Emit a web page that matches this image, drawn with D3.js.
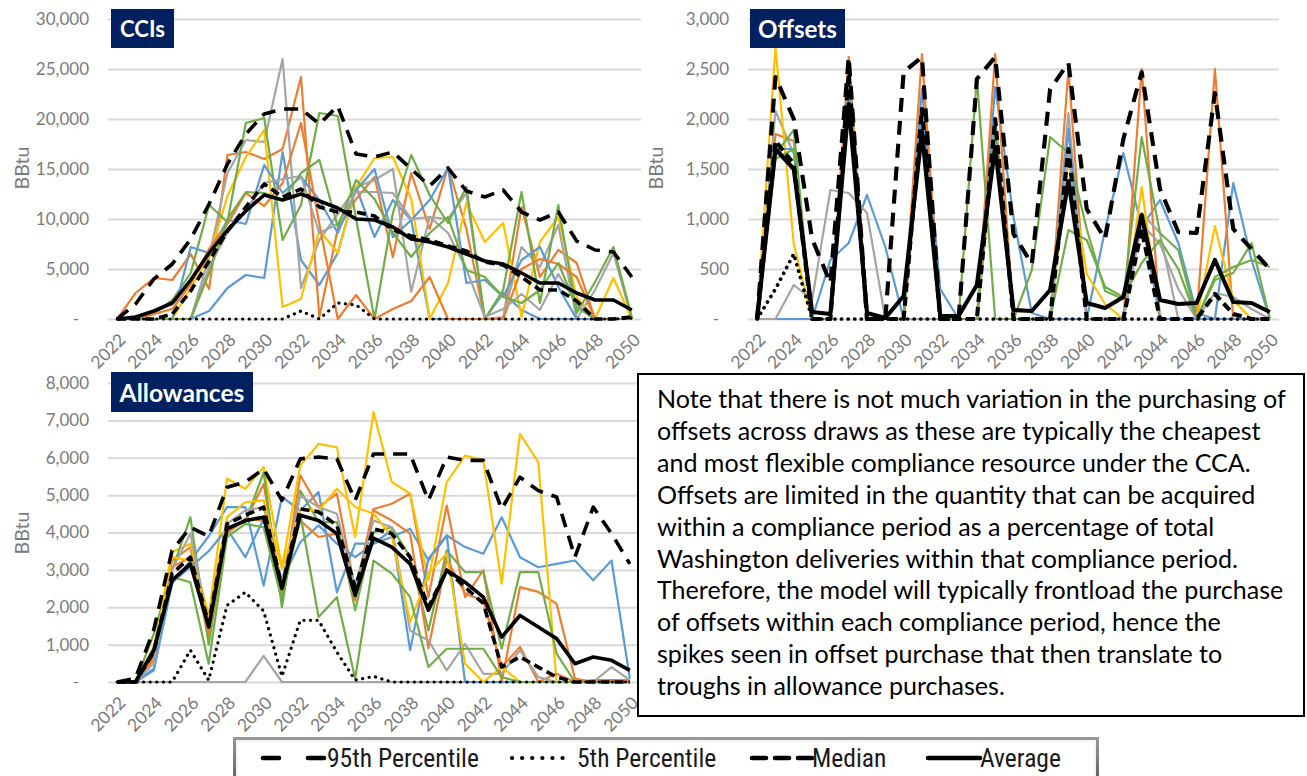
<!DOCTYPE html>
<html><head><meta charset="utf-8">
<script src="https://cdn.jsdelivr.net/npm/d3@7/dist/d3.min.js"></script>
<style>
body{margin:0;background:#fff;}
svg{display:block;font-family:Lato,"Open Sans",sans-serif;}
</style></head><body>
<svg id="c" width="1307" height="776"></svg>
<script>
// ---------- DATA ----------
const years = [2022,2023,2024,2025,2026,2027,2028,2029,2030,2031,2032,2033,2034,2035,2036,2037,2038,2039,2040,2041,2042,2043,2044,2045,2046,2047,2048,2049,2050];
const yearLabels = ["2022","2024","2026","2028","2030","2032","2034","2036","2038","2040","2042","2044","2046","2048","2050"];
const panelTitles = ["CCIs","Offsets","Allowances"];
const yAxisTitle = "BBtu";

// CCIs
const cciAvg = [0,200,800,1600,3900,6600,8900,10800,12400,11900,12500,11800,11100,10000,9900,9200,8000,7700,7200,6500,5800,5500,4600,3600,3600,2600,1900,1900,900];
const cciMedian = [0,0,0,500,2800,5800,8800,11200,13500,12200,13000,11200,10700,10700,10300,8900,8300,7900,7300,6800,5700,5400,4200,2900,2900,1800,0,0,200];
const cci95 = [0,1500,4000,5500,8000,11500,15500,18500,20500,21000,21000,19500,21300,16500,16200,16700,15000,13300,15100,12800,12200,12900,10700,9900,10700,7800,6900,6700,4200];
const cci5 = [0,0,0,0,0,0,0,0,0,0,800,0,1600,1400,0,0,0,0,0,0,0,0,0,0,0,0,0,0,100];
const cciBlueA = [0,0,0,0,0,800,3100,4400,4100,16700,5900,3400,6600,13200,8200,11900,9900,0,0,0,0,2600,900,0,0,0,0,0,0];
const cciBlueB = [0,0,0,0,7200,6600,9900,9500,15400,12600,14200,11900,8600,12900,15000,8200,9900,11900,15100,3600,3900,2200,5900,7200,3200,0,0,0,0];
const cciOrangeA = [0,2600,4100,3900,6500,3000,16400,16700,16000,17000,24200,200,9000,12000,14200,6200,14600,9000,15200,9000,0,0,11200,4200,6900,5600,0,0,0];
const cciOrangeB = [0,0,500,1000,3500,7000,9500,12600,11300,13600,19600,9500,0,2400,0,1000,1800,4200,0,0,0,0,5000,6000,5500,4200,0,0,0];
const cciGrayA = [0,0,0,0,0,6200,14600,17900,17700,26000,3100,7900,10500,13200,13900,15000,2700,10200,10000,12600,0,200,7200,5200,9400,0,2900,6600,0];
const cciGrayB = [0,0,0,0,0,5200,8600,10900,13600,14000,14300,8600,9500,12700,12700,12600,10000,10200,8600,5000,200,1000,2500,900,4500,1500,0,0,0];
const cciYellow = [0,0,0,0,3100,6200,12300,16200,18900,1200,2000,8900,6600,13200,16100,16200,12000,0,3600,11600,7700,9600,200,7700,10200,2200,0,4100,0];
const cciGreenA = [0,0,500,1900,4600,11400,9700,19600,20100,7900,11400,20600,20300,10000,0,10600,16400,12400,9600,13200,0,2900,12700,1600,11400,600,3700,7200,200];
const cciGreenB = [0,0,0,0,0,4600,10000,12700,12600,11900,14600,15900,9200,13900,12000,8600,6200,8600,10200,4900,4200,2200,1600,2900,5600,1200,0,0,0];

// Offsets
const offAvg = [0,1700,1500,70,50,2150,60,10,230,1870,30,30,340,1720,90,80,290,1380,160,110,220,1040,190,150,160,590,170,160,70];
const offMedian = [0,1780,1550,0,0,2450,0,0,0,2100,0,0,0,2000,0,0,0,1700,0,0,0,900,0,0,0,250,50,0,0];
const off95 = [0,2420,2000,800,360,2620,0,0,2470,2620,0,0,2400,2620,850,550,2300,2560,1100,800,1800,2470,1300,870,860,2260,900,700,500];
const off5 = [0,300,650,0,0,0,0,0,0,0,0,0,0,0,0,0,0,0,0,0,0,0,0,0,0,0,0,0,0];
const offBlueA = [0,0,0,0,590,760,1240,720,0,2300,300,0,0,2320,1020,60,0,0,0,890,1660,920,1190,760,60,0,1360,590,0];
const offBlueB = [0,1700,1700,0,0,2300,0,0,0,2100,0,0,0,2000,0,0,0,1900,0,0,0,1000,0,0,0,0,0,0,0];
const offOrange = [0,1850,1780,0,0,2620,0,0,0,2650,0,0,0,2650,0,0,0,2500,0,0,0,2500,0,0,0,2500,0,0,0];
const offGrayA = [0,2080,1650,0,0,2300,0,0,0,2000,0,0,0,2000,0,0,0,2060,0,0,0,1060,860,0,0,0,0,0,0];
const offGrayB = [0,0,340,190,1290,1260,1060,0,0,0,0,0,0,1800,0,0,0,1700,0,0,0,950,750,300,0,260,220,100,0];
const offYellow = [0,2720,750,0,0,2100,0,0,0,2000,0,0,0,1800,0,0,0,1600,450,150,0,1320,0,0,0,930,190,0,0];
const offGreenA = [0,1650,1890,0,0,2200,0,0,0,2000,0,0,2410,0,0,490,1820,1660,900,280,200,1820,860,690,0,390,460,760,0];
const offGreenB = [0,1600,1700,0,0,2100,0,0,0,1900,0,0,0,1900,0,0,0,890,790,320,220,560,790,500,0,420,520,590,520];

// Allowances
const alwAvg = [0,0,850,2720,3160,1470,4100,4320,4410,2500,4460,4320,3970,2320,3850,3610,3160,1920,2990,2670,2270,1200,1780,1470,1160,490,670,580,310];
const alwMedian = [0,0,800,2900,3340,1560,4230,4460,4680,2540,4630,4550,4190,2540,4100,3970,3340,2010,2990,2540,2100,400,670,400,130,0,0,0,0];
const alw95 = [0,100,1400,3520,4140,3900,5210,5350,5700,4860,5970,6020,5970,4860,6100,6100,6100,4860,6020,5930,5930,4630,5480,5120,4950,3340,4680,3970,3160];
const alw5 = [0,0,0,0,850,50,2050,2400,1900,150,1650,1650,800,50,150,0,0,0,0,0,0,0,0,0,0,0,0,0,0];
const alwBlueA = [0,0,360,2630,3250,3900,4680,4680,2580,4950,4590,5080,2400,3700,3700,3880,4100,3250,3920,3610,3430,4410,3340,3070,3160,3250,2720,3250,90];
const alwBlueB = [0,0,310,2670,3070,3500,4100,3340,4370,2720,3740,4190,3700,3340,3700,4060,850,3300,3920,0,0,0,0,0,0,0,0,0,0];
const alwOrangeA = [0,0,700,3250,3610,1110,4010,4320,5300,2360,5530,4680,5040,2450,4630,4770,5040,2270,4720,2270,2990,0,2540,2410,2090,90,0,0,0];
const alwOrangeB = [0,0,600,3070,3340,1290,3970,4370,4320,2450,4320,3880,3970,2180,4590,4320,3970,900,3300,2360,2180,400,940,0,220,0,50,50,50];
const alwGrayA = [0,0,0,0,0,0,0,0,700,0,0,0,0,0,0,0,0,0,0,0,0,0,0,0,0,0,0,0,0];
const alwGrayB = [0,0,500,3000,3970,1500,4230,4590,4680,2670,4990,4680,4500,2540,4320,4140,1380,1110,310,1020,220,220,850,130,0,0,0,400,50];
const alwYellowA = [0,0,940,3480,3700,1750,5440,5170,5750,3070,5790,6370,6280,3880,7220,5350,5040,2720,5350,6060,5930,2630,6640,5880,0,0,0,0,0];
const alwYellowB = [0,0,850,3340,3250,1800,4410,4810,4860,3030,4630,4590,5170,4680,4500,3900,1600,2900,3440,490,0,400,0,0,0,0,0,0,0];
const alwGreenA = [0,0,1290,2990,4410,1000,4140,4280,5610,2000,5120,4280,4280,1920,4010,4140,3340,1380,3520,2940,2940,890,2940,2940,760,0,0,0,0];
const alwGreenB = [0,0,900,2810,2670,490,3880,4230,4140,2180,4500,1740,2270,90,3250,2900,2270,400,890,890,890,130,0,0,0,0,0,0,0];

const legendLabels = ["95th Percentile","5th Percentile","Median","Average"];
const noteLines = [
 "Note that there is not much variation in the purchasing of",
 "offsets across draws as these are typically the cheapest",
 "and most flexible compliance resource under the CCA.",
 "Offsets are limited in the quantity that can be acquired",
 "within a compliance period as a percentage of total",
 "Washington deliveries within that compliance period.",
 "Therefore, the model will typically frontload the purchase",
 "of offsets within each compliance period, hence the",
 "spikes seen in offset purchase that then translate to",
 "troughs in allowance purchases."
];

// ---------- STYLE ----------
const C = {blue:"#5B9BD5", orange:"#ED7D31", gray:"#A5A5A5", yellow:"#FFC000", green:"#70AD47"};
const STY = {
  p95: {dash:"14,9", w:3.6, cap:"butt"},
  p5: {dash:"0.1,6.5", w:3.2, cap:"round"},
  med: {dash:"9,5", w:3.6, cap:"butt"},
  avg: {dash:null, w:3.6, cap:"butt"}
};
const FONT = "Lato, 'Open Sans', sans-serif";
const svg = d3.select("#c");

function fit(sel, w){
  const len = sel.node().getComputedTextLength();
  const fs = parseFloat(sel.attr("font-size"));
  sel.attr("font-size", fs * w / len);
}

function panel(cfg){
  const g = svg.append("g");
  const x = d3.scalePoint().domain(years).range([cfg.left, cfg.right]).padding(0.5);
  const y = d3.scaleLinear().domain([0, cfg.max]).range([cfg.bottom, cfg.top]);
  const ticks = d3.range(0, cfg.max + cfg.step/2, cfg.step);

  const ya = g.append("g").attr("transform", `translate(${cfg.left},0)`)
    .call(d3.axisLeft(y).tickValues(ticks).tickSize(-(cfg.right-cfg.left)).tickPadding(19)
      .tickFormat(d => d === 0 ? "-" : d3.format(",")(d)));
  ya.select(".domain").remove();
  ya.selectAll(".tick line").attr("stroke","#d9d9d9").attr("stroke-width",2);
  ya.selectAll(".tick text").attr("fill","#7b7b7b").attr("font-family",FONT).attr("font-size",17);
  ya.selectAll(".tick text").filter(d => d === 0).attr("dx", -10);

  const xa = g.append("g").attr("transform", `translate(0,${cfg.bottom})`)
    .call(d3.axisBottom(x).tickValues(yearLabels.map(Number)).tickSize(0).tickFormat(d => String(d)));
  xa.select(".domain").remove();
  xa.selectAll(".tick text").attr("fill","#7b7b7b").attr("font-family",FONT).attr("font-size",17.5)
    .attr("text-anchor","end").attr("y",0).attr("dy",0)
    .attr("transform","translate(9,22) rotate(-45)");

  const line = d3.line().x((d,i) => x(years[i])).y(d => y(d));
  cfg.draws.forEach(s => {
    g.append("path").datum(s.v).attr("d", line).attr("fill","none")
      .attr("stroke", s.c).attr("stroke-width", 2.2).attr("stroke-linejoin","round");
  });
  [["p5",cfg.p5],["med",cfg.med],["p95",cfg.p95],["avg",cfg.avg]].forEach(([k,v]) => {
    const st = STY[k];
    g.append("path").datum(v).attr("d", line).attr("fill","none")
      .attr("stroke","#000").attr("stroke-width", st.w * cfg.wk).attr("stroke-linecap", st.cap)
      .attr("stroke-linejoin","round").attr("stroke-dasharray", st.dash);
  });

  const yt = g.append("text").attr("transform", `translate(${cfg.ytx},${cfg.yty}) rotate(-90)`)
    .attr("text-anchor","middle").attr("dominant-baseline","middle")
    .attr("fill","#7b7b7b").attr("font-family",FONT).attr("font-size",20).text(yAxisTitle);
  fit(yt, 43);

  g.append("rect").attr("x",cfg.bx).attr("y",cfg.by).attr("width",cfg.bw).attr("height",cfg.bh).attr("fill","#002060");
  const tt = g.append("text").attr("x", cfg.bx + cfg.bw/2).attr("y", cfg.by + cfg.bh/2)
    .attr("text-anchor","middle").attr("dominant-baseline","central")
    .attr("fill","#fff").attr("font-weight","bold").attr("font-family",FONT).attr("font-size",20).text(cfg.title);
  fit(tt, cfg.tw);
}

panel({title:panelTitles[0], left:108, right:641, top:19, bottom:319, max:30000, step:5000, wk:1,
  ytx:24, yty:168, bx:111, by:9, bw:63, bh:39, tw:45,
  p95:cci95, p5:cci5, med:cciMedian, avg:cciAvg,
  draws:[{v:cciBlueA,c:C.blue},{v:cciOrangeA,c:C.orange},{v:cciGrayA,c:C.gray},{v:cciYellow,c:C.yellow},{v:cciGreenA,c:C.green},
         {v:cciBlueB,c:C.blue},{v:cciOrangeB,c:C.orange},{v:cciGrayB,c:C.gray},{v:cciGreenB,c:C.green}]});

panel({title:panelTitles[1], left:748, right:1279, top:19, bottom:319, max:3000, step:500, wk:1.15,
  ytx:658, yty:168, bx:750, by:9, bw:95, bh:39, tw:79,
  p95:off95, p5:off5, med:offMedian, avg:offAvg,
  draws:[{v:offBlueA,c:C.blue},{v:offOrange,c:C.orange},{v:offGrayA,c:C.gray},{v:offYellow,c:C.yellow},{v:offGreenA,c:C.green},
         {v:offBlueB,c:C.blue},{v:offGrayB,c:C.gray},{v:offGreenB,c:C.green}]});

panel({title:panelTitles[2], left:108, right:639, top:383, bottom:682, max:8000, step:1000, wk:1,
  ytx:24, yty:533, bx:111, by:372, bw:142, bh:40, tw:125,
  p95:alw95, p5:alw5, med:alwMedian, avg:alwAvg,
  draws:[{v:alwBlueA,c:C.blue},{v:alwOrangeA,c:C.orange},{v:alwGrayA,c:C.gray},{v:alwYellowA,c:C.yellow},{v:alwGreenA,c:C.green},
         {v:alwBlueB,c:C.blue},{v:alwOrangeB,c:C.orange},{v:alwGrayB,c:C.gray},{v:alwYellowB,c:C.yellow},{v:alwGreenB,c:C.green}]});

// ---------- NOTE BOX ----------
svg.append("rect").attr("x",638).attr("y",374).attr("width",666).attr("height",342)
  .attr("fill","#fff").attr("stroke","#000").attr("stroke-width",2);
const nt = svg.append("g");
const noteTexts = nt.selectAll("text").data(noteLines).join("text")
  .attr("x",657).attr("y",(d,i) => 398 + i*31.9).attr("dominant-baseline","central")
  .attr("fill","#000").attr("font-family",FONT).attr("font-size",20).text(d => d);
{
  const len = noteTexts.nodes()[0].getComputedTextLength();
  noteTexts.attr("font-size", 20 * 629 / len);
}

// ---------- LEGEND ----------
const defs = svg.append("defs");
const lg = defs.append("linearGradient").attr("id","lgb").attr("x1",0).attr("y1",0).attr("x2",0).attr("y2",1);
lg.append("stop").attr("offset","0%").attr("stop-color","#9a9a9a");
lg.append("stop").attr("offset","100%").attr("stop-color","#5e5e5e");
svg.append("rect").attr("x",233).attr("y",737).attr("width",866).attr("height",46).attr("fill","url(#lgb)");
svg.append("rect").attr("x",236).attr("y",740).attr("width",860).attr("height",46).attr("fill","#f4f4f4");
svg.append("rect").attr("x",238).attr("y",742).attr("width",856).attr("height",46).attr("fill","#fff");

const legendItems = [
  {k:"p95", x1:263, x2:327, tx:327},
  {k:"p5", x1:512, x2:570, tx:577},
  {k:"med", x1:752, x2:812, tx:812},
  {k:"avg", x1:928, x2:980, tx:980}
];
const LFONT = "'Liberation Sans Narrow', 'Roboto Condensed', Lato, sans-serif";
const probe = svg.append("text").attr("font-family",LFONT).attr("font-size",20).text(legendLabels[0]);
fit(probe, 152);
const legendSize = parseFloat(probe.attr("font-size"));
probe.remove();
legendItems.forEach((it,i) => {
  const st = STY[it.k];
  svg.append("line").attr("x1",it.x1).attr("x2",it.x2).attr("y1",758).attr("y2",758)
    .attr("stroke","#000").attr("stroke-width",st.w + 1).attr("stroke-linecap","round")
    .attr("stroke-dasharray", it.k==="p95" ? "16,29" : it.k==="p5" ? "0.1,10" : it.k==="med" ? "14,9" : null);
  svg.append("text").attr("x",it.tx).attr("y",758).attr("dominant-baseline","central")
    .attr("fill","#1a1a1a").attr("font-family",LFONT)
    .attr("font-size",legendSize).text(legendLabels[i]);
});
</script>
</body></html>
